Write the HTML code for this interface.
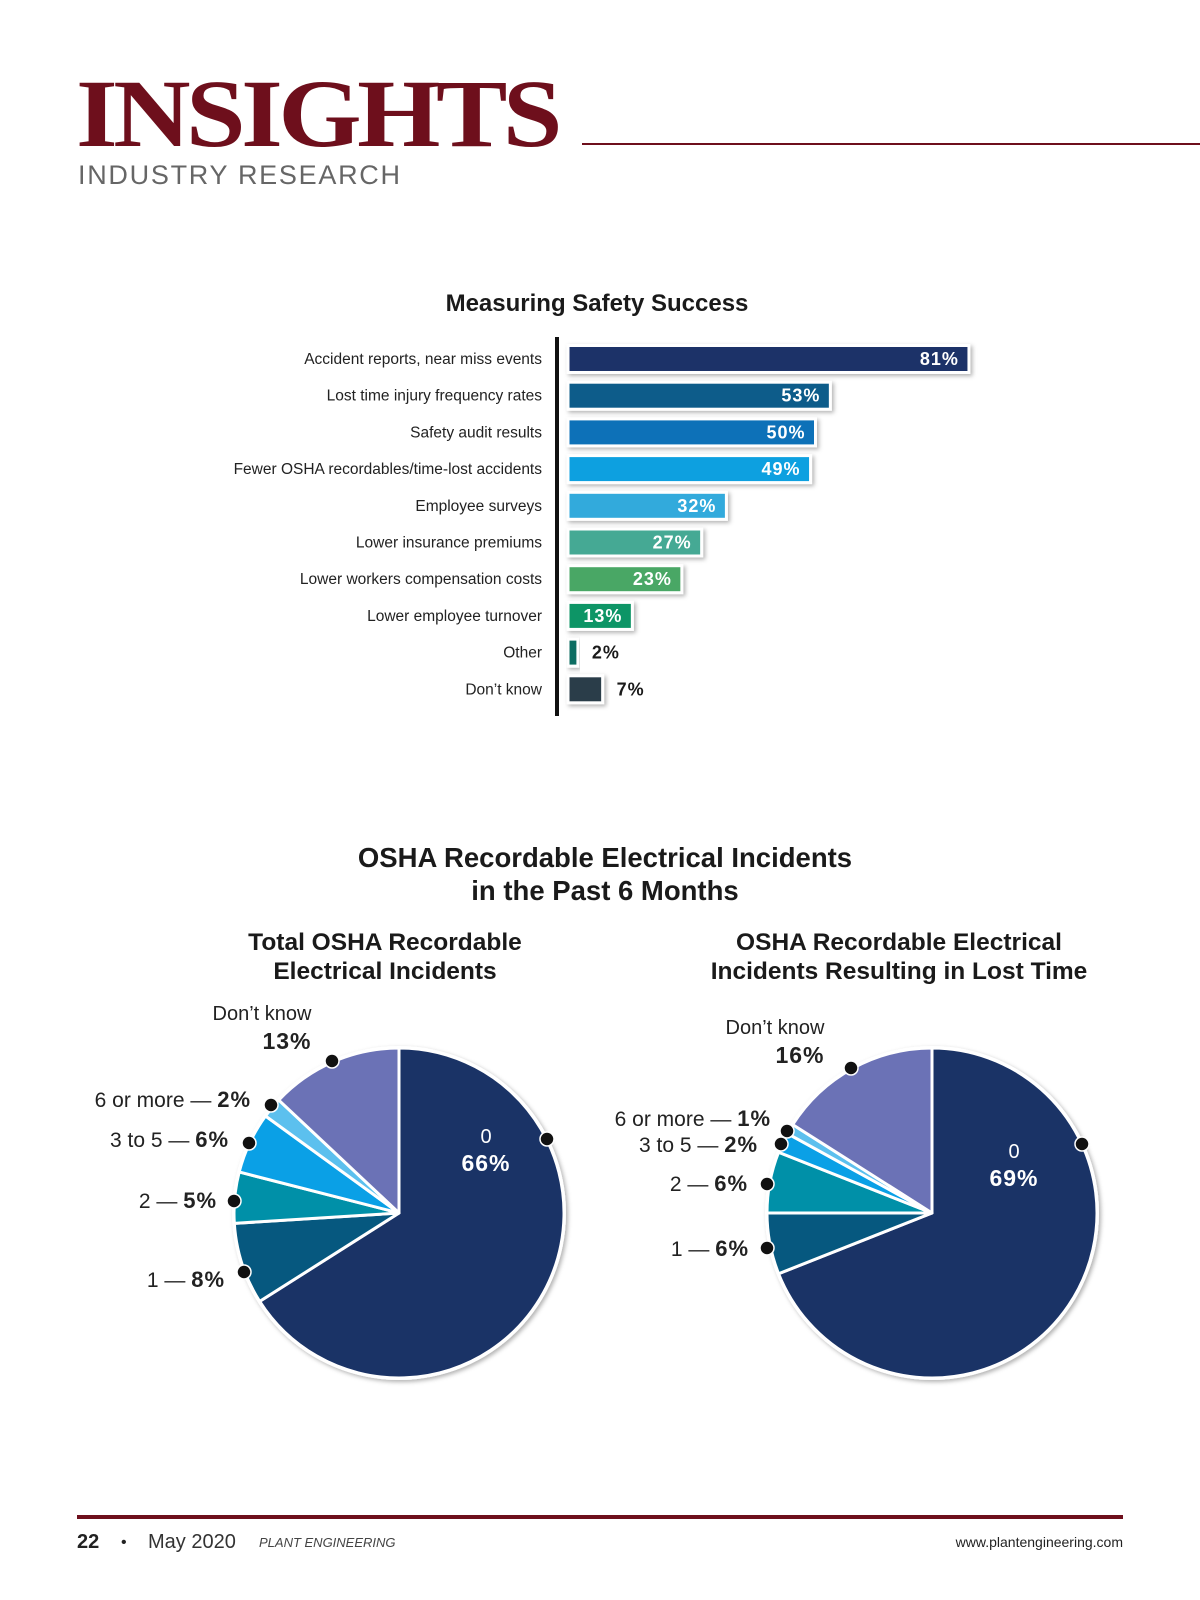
<!DOCTYPE html>
<html><head><meta charset="utf-8"><style>
body{margin:0;background:#fff;}
svg{display:block;font-family:"Liberation Sans",sans-serif;}
</style></head><body>
<svg id="page" width="1200" height="1600" viewBox="0 0 1200 1600" xmlns="http://www.w3.org/2000/svg">
<defs>
<filter id="sh" x="-20%" y="-20%" width="140%" height="160%"><feDropShadow dx="2" dy="2" stdDeviation="2" flood-color="#000" flood-opacity="0.3"/></filter>
</defs>
<text x="76" y="146" font-family="Liberation Serif,serif" font-weight="bold" font-size="96" fill="#6e0f1c" letter-spacing="-4" textLength="482" lengthAdjust="spacingAndGlyphs">INSIGHTS</text>
<line x1="582" y1="144" x2="1200" y2="144" stroke="#6e0f1c" stroke-width="2"/>
<text x="78" y="184" font-size="27" fill="#666" letter-spacing="2" textLength="324">INDUSTRY RESEARCH</text>

<text x="597" y="311" text-anchor="middle" font-size="24" font-weight="bold" fill="#1a1a1a">Measuring Safety Success</text>
<g id="bars"></g>
<line x1="557" y1="337" x2="557" y2="716" stroke="#111" stroke-width="4"/>

<text x="605" y="867" text-anchor="middle" font-size="27.5" font-weight="bold" fill="#1a1a1a"><tspan x="605">OSHA Recordable Electrical Incidents</tspan><tspan x="605" dy="33">in the Past 6 Months</tspan></text>
<text x="385" y="950" text-anchor="middle" font-size="24.5" font-weight="bold" fill="#1a1a1a"><tspan x="385">Total OSHA Recordable</tspan><tspan x="385" dy="29">Electrical Incidents</tspan></text>
<text x="899" y="950" text-anchor="middle" font-size="24.5" font-weight="bold" fill="#1a1a1a"><tspan x="899">OSHA Recordable Electrical</tspan><tspan x="899" dy="29">Incidents Resulting in Lost Time</tspan></text>
<g id="pies"></g>

<line x1="77" y1="1517" x2="1123" y2="1517" stroke="#6e0f1c" stroke-width="4"/>
<text x="77" y="1548" font-size="20" font-weight="bold" fill="#222">22</text>
<text x="121" y="1547" font-size="16" fill="#222">•</text>
<text x="148" y="1548" font-size="20" fill="#333">May 2020</text>
<text x="259" y="1547" font-size="13" font-style="italic" fill="#444">PLANT ENGINEERING</text>
<text x="1123" y="1547" text-anchor="end" font-size="14" fill="#222">www.plantengineering.com</text>
</svg>
<script>
const NS="http://www.w3.org/2000/svg";
const barCategories=["Accident reports, near miss events","Lost time injury frequency rates","Safety audit results","Fewer OSHA recordables/time-lost accidents","Employee surveys","Lower insurance premiums","Lower workers compensation costs","Lower employee turnover","Other","Don\u2019t know"];
const barValues=[81,53,50,49,32,27,23,13,2,7];
const barColors=["#1b3168","#0b5b8a","#0a71b8","#0ea0e0","#33aadc","#44a994","#4aa765","#0d9566","#0f6d62","#2b3e4a"];
const leftPieLabels=["0","1","2","3 to 5","6 or more","Don\u2019t know"];
const leftPieValues=[66,8,5,6,2,13];
const rightPieLabels=["0","1","2","3 to 5","6 or more","Don\u2019t know"];
const rightPieValues=[69,6,6,2,1,16];
const pieColors=["#1a3366","#06587f","#0090a8","#0aa0e6","#5cc0ee","#6b72b6"];

function mk(tag,attrs,parent){const e=document.createElementNS(NS,tag);for(const k in attrs)e.setAttribute(k,attrs[k]);parent.appendChild(e);return e;}
const xScale=v=>v*4.95;
const yRow=i=>359+i*36.7;
const bars=document.getElementById('bars');
barValues.forEach((v,i)=>{
  const y=yRow(i),w=xScale(v);
  const r=mk('rect',{x:568,y:y-13.5,width:w,height:27,fill:barColors[i],stroke:'#fff','stroke-width':3,filter:'url(#sh)'},bars);
  
  
  const l=mk('text',{x:542,y:y+5,'text-anchor':'end','font-size':15.5,fill:'#222'},bars);
  l.textContent=barCategories[i];
  
  
  const inside=v>=10;
  const t=mk('text',{x:inside?568+w-10:568+w+14,y:y+6,'text-anchor':inside?'end':'start','font-size':18,'font-weight':'bold','letter-spacing':1,fill:inside?'#fff':'#1a1a1a'},bars);
  t.textContent=v+'%';
  
  
});

const pies=document.getElementById('pies');
function drawPie(cx,cy,r,vals,name){
  const g=mk('g',{},pies);
  
  
  mk('circle',{cx,cy,r:r+2,fill:'#fff',filter:'url(#sh)'},g);
  const tot=vals.reduce((a,b)=>a+b,0);let a0=0;
  vals.forEach((v,i)=>{
    const a1=a0+v/tot*2*Math.PI;
    const p=(a)=>[cx+r*Math.sin(a),cy-r*Math.cos(a)];
    const [x0,y0]=p(a0),[x1,y1]=p(a1);
    const s=mk('path',{d:`M${cx},${cy}L${x0},${y0}A${r},${r} 0 ${a1-a0>Math.PI?1:0} 1 ${x1},${y1}Z`,fill:pieColors[i],stroke:'#fff','stroke-width':3,'stroke-linejoin':'round'},g);
    
    
    a0=a1;
  });
}
drawPie(399,1213,165,leftPieValues,'left-pie');
drawPie(932,1213,165,rightPieValues,'right-pie');

function dot(x,y){const c=mk('circle',{cx:x,cy:y,r:7,fill:'#111',stroke:'#fff','stroke-width':1.5},pies);
  
  }
function lbl(x,y,anchor,name,val,sep,color){
  const t=mk('text',{x,y,'text-anchor':anchor,'font-size':21,fill:color||'#222'},pies);
  
  
  const a=mk('tspan',{},t);a.textContent=name+sep;
  const b=mk('tspan',{'font-weight':'bold','font-size':22,'letter-spacing':1},t);b.textContent=val+'%';
}
function stacked(x,y,name,val,color){
  const t=mk('text',{x,y,'text-anchor':'middle','font-size':20,fill:color||'#222'},pies);t.textContent=name;
  
  
  const v=mk('text',{x:x+25*(color?0:1),y:y+29,'text-anchor':'middle','font-size':23,'font-weight':'bold','letter-spacing':1,fill:color||'#222'},pies);v.textContent=val+'%';
  
  
}
stacked(262,1020,leftPieLabels[5],leftPieValues[5]); dot(332,1061);
lbl(251,1107,'end',leftPieLabels[4],leftPieValues[4],' \u2014 '); dot(271,1105);
lbl(229,1147,'end',leftPieLabels[3],leftPieValues[3],' \u2014 '); dot(249,1143);
lbl(217,1208,'end',leftPieLabels[2],leftPieValues[2],' \u2014 '); dot(234,1201);
lbl(225,1287,'end',leftPieLabels[1],leftPieValues[1],' \u2014 '); dot(244,1272);
{const t=mk('text',{x:486,y:1143,'text-anchor':'middle','font-size':20,fill:'#fff'},pies);t.textContent=leftPieLabels[0];
 const v=mk('text',{x:486,y:1171,'text-anchor':'middle','font-size':23,'font-weight':'bold','letter-spacing':1,fill:'#fff'},pies);v.textContent=leftPieValues[0]+'%';}
dot(547,1139);
stacked(775,1034,rightPieLabels[5],rightPieValues[5]); dot(851,1068);
lbl(771,1126,'end',rightPieLabels[4],rightPieValues[4],' \u2014 '); dot(787,1131);
lbl(758,1152,'end',rightPieLabels[3],rightPieValues[3],' \u2014 '); dot(781,1144);
lbl(748,1191,'end',rightPieLabels[2],rightPieValues[2],' \u2014 '); dot(767,1184);
lbl(749,1256,'end',rightPieLabels[1],rightPieValues[1],' \u2014 '); dot(767,1248);
{const t=mk('text',{x:1014,y:1158,'text-anchor':'middle','font-size':20,fill:'#fff'},pies);t.textContent=rightPieLabels[0];
 const v=mk('text',{x:1014,y:1186,'text-anchor':'middle','font-size':23,'font-weight':'bold','letter-spacing':1,fill:'#fff'},pies);v.textContent=rightPieValues[0]+'%';}
dot(1082,1144);
</script>
</body></html>
